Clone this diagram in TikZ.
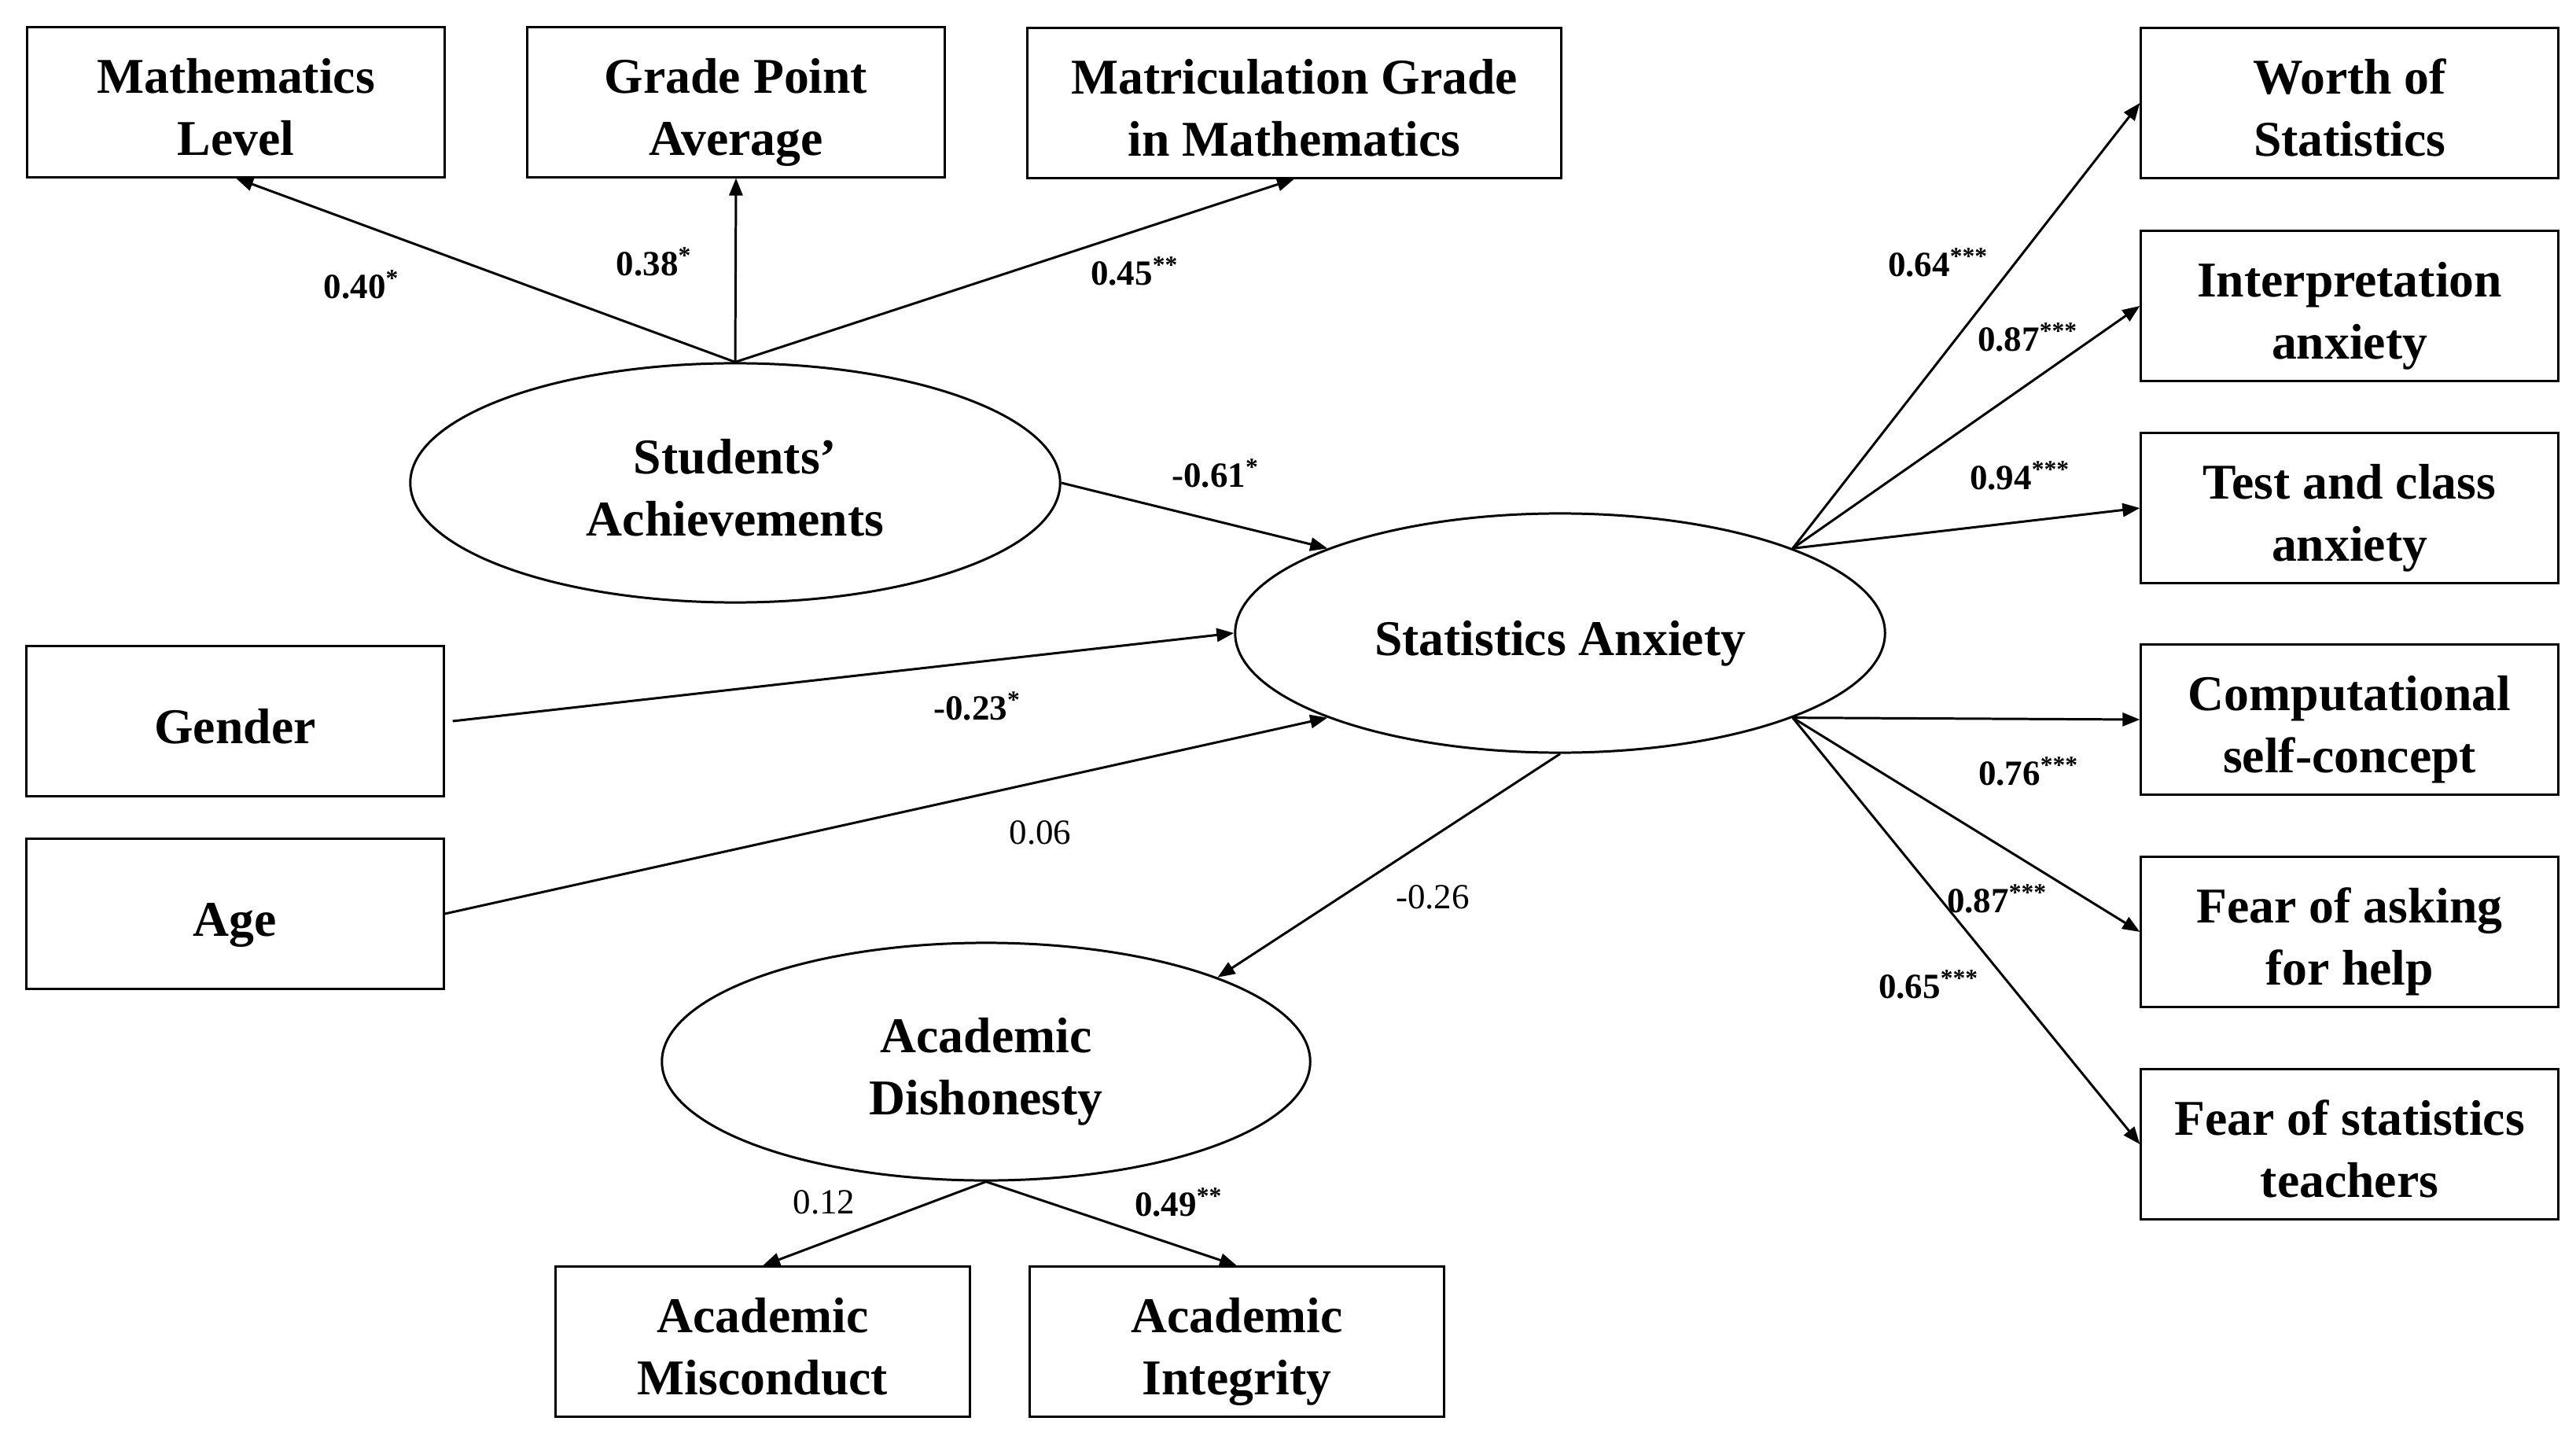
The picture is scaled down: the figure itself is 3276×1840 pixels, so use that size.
\documentclass[tikz,border=0pt]{standalone}
\usepackage{fontspec}
\setmainfont{Liberation Serif}
\usetikzlibrary{shapes.geometric,arrows.meta}
\tikzset{
  box/.style={draw, line width=0.85pt, minimum width=5.3cm, minimum height=1.9cm, inner sep=0pt, align=center,
    font=\fontsize{18.1}{22.2}\selectfont\bfseries},
  lat/.style={draw, ellipse, line width=0.85pt, minimum width=8.26cm, minimum height=3.04cm, inner sep=0pt, align=center,
    font=\fontsize{18.1}{22.2}\selectfont\bfseries},
  arr/.style={line width=0.85pt, -{Triangle[length=0.22cm,width=0.17cm]}},
  coef/.style={inner sep=1pt, font=\fontsize{12.8}{14}\selectfont\bfseries},
  coefr/.style={inner sep=1pt, font=\fontsize{12.8}{14}\selectfont},
}
\newcommand{\st}[1]{\textsuperscript{#1}}
\newcommand{\mystrutA}{\rule{0pt}{0.74cm}}
\newcommand{\mystrutB}{\rule[-0.18cm]{0pt}{0.18cm}}
\begin{document}
\begin{tikzpicture}[x=0.01cm, y=-0.01cm]
\path[use as bounding box, fill=white] (0,0) rectangle (3276,1840);

% observed boxes
\node[box] (ml) at (300,130) {\mystrutA Mathematics\\Level\mystrutB};
\node[box] (gpa) at (936,130) {\mystrutA Grade Point\\Average\mystrutB};
\node[box, minimum width=6.79cm] (mgm) at (1646,131) {\mystrutA Matriculation Grade\\in Mathematics\mystrutB};
\node[box] (worth) at (2988,131) {\mystrutA Worth of\\Statistics\mystrutB};
\node[box] (interp) at (2988,389) {\mystrutA Interpretation\\anxiety\mystrutB};
\node[box] (test) at (2988,646) {\mystrutA Test and class\\anxiety\mystrutB};
\node[box] (comp) at (2988,915) {\mystrutA Computational\\self-concept\mystrutB};
\node[box] (fah) at (2988,1185) {\mystrutA Fear of asking\\for help\mystrutB};
\node[box] (fst) at (2988,1455) {\mystrutA Fear of statistics\\teachers\mystrutB};
\node[box] (gender) at (299,917) {\mystrutA Gender\mystrutB};
\node[box] (age) at (299,1162) {\mystrutA Age\mystrutB};
\node[box, minimum width=5.27cm] (misc) at (970,1706) {\mystrutA Academic\\Misconduct\mystrutB};
\node[box, minimum width=5.27cm] (integ) at (1573,1706) {\mystrutA Academic\\Integrity\mystrutB};

% latent variables
\node[lat] (sach) at (935,614) {\mystrutA Students’\\Achievements\mystrutB};
\node[lat] (sanx) at (1984,805) {\mystrutA Statistics Anxiety\mystrutB};
\node[lat, minimum width=8.24cm, minimum height=3.02cm] (adis) at (1254,1350) {\mystrutA Academic\\Dishonesty\mystrutB};

% connectors
\draw[arr] (sach.north) -- (ml.south);
\draw[arr] (sach.north) -- (gpa.south);
\draw[arr] (sach.north) -- (mgm.south);
\draw[arr] (sach.east) -- (sanx.160);
\draw[arr] ([xshift=0.1cm]gender.east) -- (sanx.west);
\draw[arr] (age.east) -- (sanx.200);
\draw[arr] (sanx.south) -- (adis.20);
\draw[arr] (adis.south) -- (misc.north);
\draw[arr] (adis.south) -- (integ.north);
\draw[arr] (sanx.20) -- (worth.west);
\draw[arr] (sanx.20) -- (interp.west);
\draw[arr] (sanx.20) -- (test.west);
\draw[arr] (sanx.-20) -- (comp.west);
\draw[arr] (sanx.-20) -- (fah.west);
\draw[arr] (sanx.-20) -- (fst.west);

% coefficients
\node[coef] (c1) at (460,362) {0.40\st{*}};
\node[coef] (c2) at (832,333) {0.38\st{*}};
\node[coef] (c3) at (1443,345) {0.45\st{**}};
\node[coef] (c4) at (1546,602) {-0.61\st{*}};
\node[coef] (c5) at (1243,898) {-0.23\st{*}};
\node[coefr] (c6) at (1323,1059) {0.06};
\node[coefr] (c7) at (1822,1141) {-0.26};
\node[coefr] (c8) at (1048,1529) {0.12};
\node[coef] (c9) at (1499,1529) {0.49\st{**}};
\node[coef] (c10) at (2465,334) {0.64\st{***}};
\node[coef] (c11) at (2579,429) {0.87\st{***}};
\node[coef] (c12) at (2569,605) {0.94\st{***}};
\node[coef] (c13) at (2580,981) {0.76\st{***}};
\node[coef] (c14) at (2540,1143) {0.87\st{***}};
\node[coef] (c15) at (2453,1252) {0.65\st{***}};
\end{tikzpicture}
\end{document}
